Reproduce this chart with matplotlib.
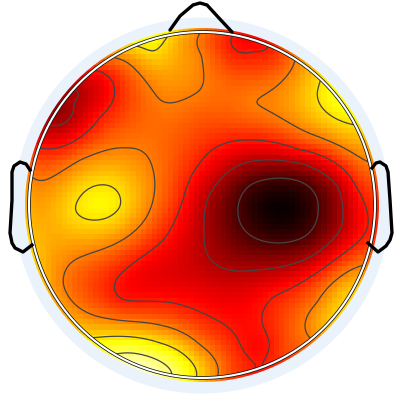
import numpy as np
import matplotlib
matplotlib.use("Agg")
import matplotlib.pyplot as plt
from matplotlib.patches import Circle

contour_levels = [0.10, 0.25, 0.40, 0.55, 0.70, 0.85]

# Values: points along each contour, plus peaks and open areas
level_010 = [(238, 210), (278, 178), (318, 210), (278, 243), (250, 185), (307, 185), (250, 235), (307, 235)]
level_025 = [(204, 233), (220, 267), (257, 270), (310, 257), (340, 230), (338, 187), (300, 163), (267, 160),
             (220, 180), (207, 200), (47, 118), (72, 103), (72, 88)]
level_040 = [(200, 163), (183, 200), (163, 240), (115, 283), (123, 300), (167, 302), (200, 312), (233, 332),
             (243, 350), (250, 376), (272, 370), (270, 345), (262, 323), (273, 297), (310, 277), (360, 240),
             (363, 200), (355, 185), (300, 150), (230, 142), (43, 148), (100, 117), (90, 70), (235, 33),
             (253, 50), (270, 43)]
level_055 = [(32, 177), (80, 160), (127, 148), (153, 170), (153, 200), (117, 243), (63, 283), (93, 315), (160, 325),
             (200, 345), (218, 375), (310, 337), (317, 303), (358, 267), (372, 163), (293, 125), (255, 103),
             (295, 60), (110, 57), (160, 100), (200, 90), (202, 55), (202, 30)]
level_070 = [(78, 200), (100, 185), (120, 197), (120, 207), (93, 220), (75, 210), (133, 45), (153, 52), (170, 33),
             (322, 75), (317, 93), (357, 125), (90, 338), (160, 343), (197, 375)]
level_085 = [(112, 355), (143, 355), (172, 373)]
open_points = [(280, 205, 0.0), (60, 112, 0.20), (135, 373, 0.96), (100, 203, 0.74), (155, 38, 0.76),
               (345, 100, 0.78), (250, 42, 0.36), (30, 215, 0.63), (375, 215, 0.42), (335, 335, 0.63),
               (258, 350, 0.37), (258, 374, 0.38), (290, 355, 0.47), (232, 372, 0.47), (205, 290, 0.33),
               (150, 270, 0.34), (45, 270, 0.63), (200, 120, 0.49), (30, 130, 0.33), (375, 290, 0.62)]

nose_x = [170, 180, 193, 200, 207, 218, 232]
nose_y = [30, 16, 5, 3, 5, 17, 32]
left_ear_x = [30, 26, 20, 14, 12, 12, 10, 12, 15, 23, 32]
left_ear_y = [170, 164, 162, 166, 172, 200, 233, 243, 248, 252, 245]
right_ear_x = [372, 376, 380, 386, 388, 390, 392, 390, 386, 378, 368]
right_ear_y = [168, 163, 162, 166, 172, 200, 233, 240, 246, 252, 243]

CX, CY, R = 202.0, 205.0, 173.0

pts = []
for lev, group in zip(contour_levels, (level_010, level_025, level_040, level_055, level_070, level_085)):
    pts += [(x, y, lev) for x, y in group]
pts += open_points
pts = np.array(pts, dtype=float)
px, py, pv = pts[:, 0], pts[:, 1], pts[:, 2]
mean_v = pv.mean()


def green(d):
    d = np.maximum(d, 1e-9) / R
    return d * d * (np.log(d) - 1)


D = np.hypot(px[:, None] - px[None], py[:, None] - py[None])
w = np.linalg.solve(green(D) + 2e-3 * np.eye(len(pv)), pv - mean_v)


def surface(gx, gy):
    d = np.hypot(gx[..., None] - px, gy[..., None] - py)
    return np.clip((green(d) * w).sum(-1) + mean_v, 0, 1)


fig = plt.figure(figsize=(4, 4), dpi=100)
ax = fig.add_axes([0, 0, 1, 1])
ax.set_xlim(0, 400)
ax.set_ylim(400, 0)
ax.axis("off")

ax.add_patch(Circle((CX, CY + 0.5), 188, fc="#EAF3FC", ec="none", zorder=0))
for ex, ey in ((left_ear_x, left_ear_y), (right_ear_x, right_ear_y)):
    ax.fill(ex, ey, fc="#EAF3FC", ec="none", zorder=0)

edges_x = CX + 5.3 * (np.arange(-34, 35) + 0.5)
edges_y = CY + 5.3 * (np.arange(-34, 35) + 0.5)
mx = 0.5 * (edges_x[:-1] + edges_x[1:])
my = 0.5 * (edges_y[:-1] + edges_y[1:])
GX, GY = np.meshgrid(mx, my)
mesh = ax.pcolormesh(edges_x, edges_y, surface(GX, GY), cmap="hot", vmin=0, vmax=1,
                     shading="flat", zorder=1, rasterized=True)
mesh.set_clip_path(Circle((CX, CY), R + 4, transform=ax.transData))

fx = np.linspace(CX - R, CX + R, 300)
fy = np.linspace(CY - R, CY + R, 300)
FX, FY = np.meshgrid(fx, fy)
Z = np.ma.masked_where(np.hypot(FX - CX, FY - CY) > R, surface(FX, FY))
ax.contour(fx, fy, Z, levels=contour_levels, colors="#444444", linewidths=0.9, zorder=2)

ax.add_patch(Circle((CX, CY), R, fc="none", ec="#111111", lw=2.6, zorder=3))
ax.add_patch(Circle((CX, CY), R, fc="none", ec="white", lw=1.5, zorder=4))
ax.plot(nose_x, nose_y, color="black", lw=2.4, zorder=5, solid_capstyle="round")
ax.plot(left_ear_x, left_ear_y, color="black", lw=2.4, zorder=5)
ax.plot(right_ear_x, right_ear_y, color="black", lw=2.4, zorder=5)

fig.savefig("out.png", dpi=100, facecolor="white")
